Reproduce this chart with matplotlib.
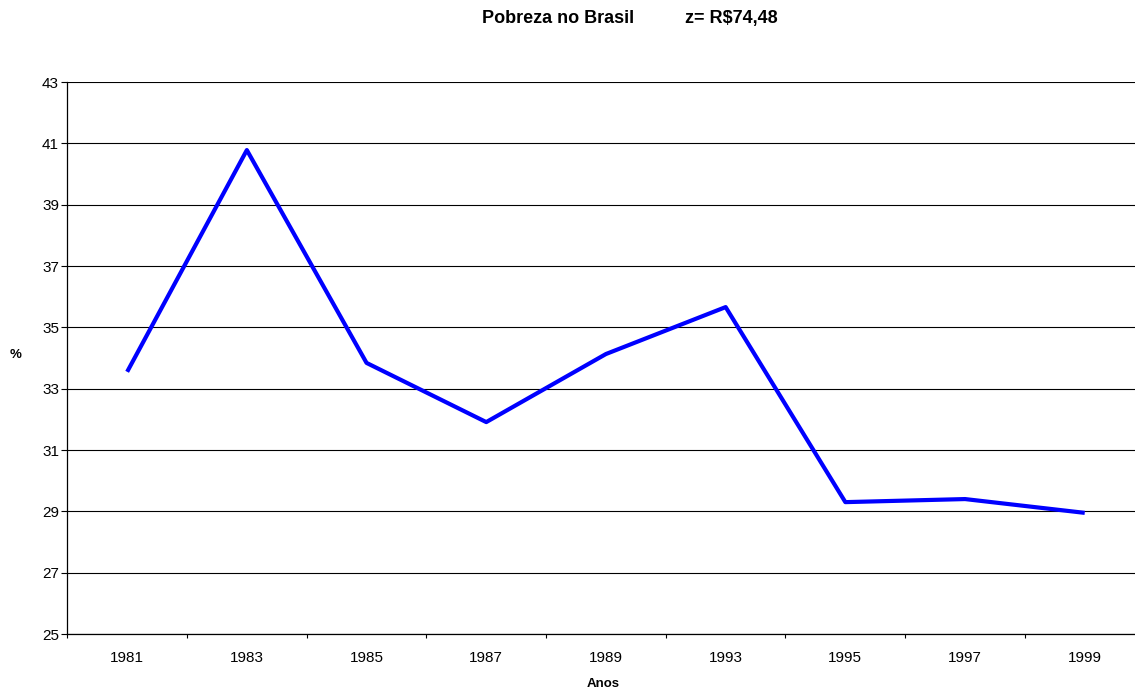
import matplotlib.pyplot as plt
import numpy as np

plt.rcParams['font.family'] = ['Liberation Sans', 'DejaVu Sans']

anos = ['1981', '1983', '1985', '1987', '1989', '1993', '1995', '1997', '1999']
pobreza = [33.55, 40.78, 33.84, 31.91, 34.13, 35.66, 29.30, 29.40, 28.95]

fig = plt.figure(figsize=(11.35, 6.91), dpi=100)
ax = fig.add_axes([67.3 / 1135, 57 / 691, 1077.3 / 1135, 552 / 691])

x = np.arange(len(anos))
ax.plot(x, pobreza, color='#0000ff', linewidth=3, solid_capstyle='butt')

ax.set_xlim(-0.5, len(anos) - 0.5)
ax.set_ylim(25, 43)
ax.set_yticks(np.arange(25, 44, 2))
ax.set_xticks(x)
ax.set_xticklabels(anos)
ax.set_xticks(np.arange(-0.5, len(anos), 1), minor=True)

ax.yaxis.grid(True, color='black', linewidth=0.8)
ax.set_axisbelow(True)
ax.tick_params(axis='y', direction='out', length=4, width=0.8, labelsize=11, pad=2)
ax.tick_params(axis='x', which='major', length=0, labelsize=11, pad=12)
ax.tick_params(axis='x', which='minor', direction='out', length=3, width=0.8)

for s in ['top', 'right']:
    ax.spines[s].set_visible(False)
for s in ['left', 'bottom']:
    ax.spines[s].set_linewidth(0.9)

fig.text(558 / 1135, 1 - 18.5 / 691, 'Pobreza no Brasil',
         ha='center', va='center', fontsize=13, fontweight='bold')
fig.text(731 / 1135, 1 - 18.5 / 691, 'z= R$74,48',
         ha='center', va='center', fontsize=13, fontweight='bold')
fig.text(603 / 1135, 1 - 684 / 691, 'Anos', ha='center', va='center',
         fontsize=9.5, fontweight='bold')
fig.text(16 / 1135, 1 - 355 / 691, '%', ha='center', va='center',
         fontsize=9.5, fontweight='bold')

fig.savefig('out.png', dpi=100)
